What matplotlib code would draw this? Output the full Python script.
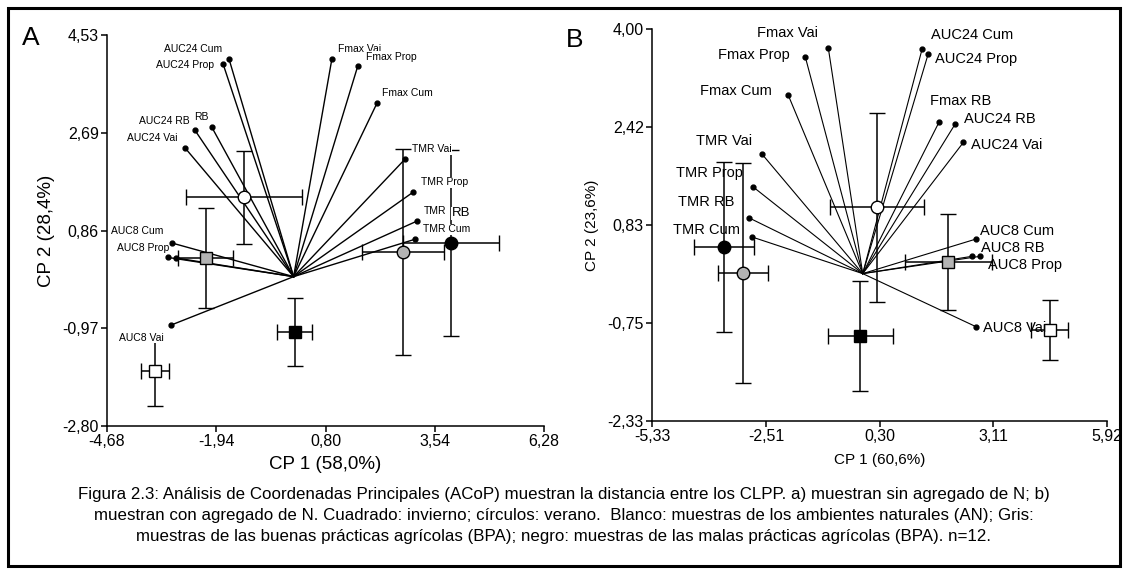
import matplotlib
matplotlib.use('Agg')
import matplotlib.pyplot as plt
from matplotlib.patches import Rectangle

plt.rcParams['font.family'] = ['Liberation Sans', 'DejaVu Sans']

# ---- panel A: sin agregado de N ----
a_origin = (0.0, 0.0)
a_vec_x = [-1.62, -1.77, -2.47, -2.05, -2.73, 0.96, 1.61, 2.09,
           2.79, 2.99, 3.09, 3.04, -3.05, -3.15, -2.95, -3.08]
a_vec_y = [4.08, 3.99, 2.74, 2.80, 2.42, 4.08, 3.95, 3.25,
           2.20, 1.58, 1.04, 0.70, 0.63, 0.36, 0.35, -0.91]

a_pt_x = [-1.25, -2.20, 0.03, -3.48, 2.74, 3.94]
a_pt_y = [1.49, 0.35, -1.04, -1.77, 0.46, 0.63]
a_pt_xerr = [1.45, 0.69, 0.44, 0.35, 1.03, 1.20]
a_pt_yerr = [0.87, 0.94, 0.64, 0.66, 1.93, 1.75]

a_labels = ['AUC24 Cum', 'AUC24 Prop', 'AUC24 RB', 'RB', 'AUC24 Vai',
            'AUC8 Cum', 'AUC8 Prop', 'AUC8 Vai', 'Fmax Vai', 'Fmax Prop',
            'Fmax Cum', 'TMR Vai', 'TMR Prop', 'TMR', 'RB', 'TMR Cum']
a_lab_x = [-2.52, -2.73, -3.25, -2.32, -3.55, -3.93, -3.78, -3.83,
           1.66, 2.44, 2.86, 3.47, 3.79, 3.54, 4.19, 3.84]
a_lab_y = [4.27, 3.97, 2.92, 2.99, 2.60, 0.85, 0.53, -1.15,
           4.27, 4.12, 3.44, 2.39, 1.77, 1.23, 1.19, 0.89]

a_xticks = [-4.68, -1.94, 0.80, 3.54, 6.28]
a_yticks = [-2.80, -0.97, 0.86, 2.69, 4.53]

# ---- panel B: con agregado de N ----
b_origin = (-0.12, 0.05)
b_vec_x = [-0.97, -1.54, -1.96, -2.61, -2.83, -2.93, -2.85, 1.35,
           1.50, 1.77, 2.17, 2.37, 2.69, 2.79, 2.59, 2.69]
b_vec_y = [3.69, 3.55, 2.93, 1.98, 1.45, 0.95, 0.64, 3.68,
           3.60, 2.50, 2.47, 2.17, 0.61, 0.33, 0.33, -0.81]

b_pt_x = [-0.18, 2.00, 4.50, -3.55, -3.08, 0.24]
b_pt_y = [-0.96, 0.24, -0.86, 0.48, 0.06, 1.12]
b_pt_xerr = [0.80, 1.07, 0.46, 0.73, 0.62, 1.16]
b_pt_yerr = [0.89, 0.77, 0.49, 1.37, 1.78, 1.53]

b_labels = ['Fmax Vai', 'Fmax Prop', 'Fmax Cum', 'TMR Vai', 'TMR Prop',
            'TMR RB', 'TMR Cum', 'AUC24 Cum', 'AUC24 Prop', 'Fmax RB',
            'AUC24 RB', 'AUC24 Vai', 'AUC8 Cum', 'AUC8 RB', 'AUC8 Prop',
            'AUC8 Vai']
b_lab_x = [-1.99, -2.81, -3.25, -3.55, -3.92, -3.99, -3.99, 2.59,
           2.69, 2.29, 3.26, 3.43, 3.70, 3.58, 3.90, 3.63]
b_lab_y = [3.94, 3.58, 3.00, 2.19, 1.67, 1.21, 0.75, 3.90,
           3.52, 2.84, 2.55, 2.13, 0.74, 0.46, 0.19, -0.83]

b_xticks = [-5.33, -2.51, 0.30, 3.11, 5.92]
b_yticks = [-2.33, -0.75, 0.83, 2.42, 4.00]

caption = [
    'Figura 2.3: Análisis de Coordenadas Principales (ACoP) muestran la distancia entre los CLPP. a) muestran sin agregado de N; b)',
    'muestran con agregado de N. Cuadrado: invierno; círculos: verano.  Blanco: muestras de los ambientes naturales (AN); Gris:',
    'muestras de las buenas prácticas agrícolas (BPA); negro: muestras de las malas prácticas agrícolas (BPA). n=12.',
]

# square/circle, colour per point (same order as the point lists)
a_styles = [('o', 'white'), ('s', '#b3b3b3'), ('s', 'black'),
            ('s', 'white'), ('o', '#b3b3b3'), ('o', 'black')]
b_styles = [('s', 'black'), ('s', '#b3b3b3'), ('s', 'white'),
            ('o', 'black'), ('o', '#b3b3b3'), ('o', 'white')]


def fmt(v):
    return f'{v:.2f}'.replace('.', ',')


def draw_panel(ax, origin, vx, vy, px, py, pxe, pye, styles,
               labels, lx, ly, xt, yt, lab_size, vec_lw, boxed, size_override=None):
    size_override = size_override or {}
    for x, y in zip(vx, vy):
        ax.plot([origin[0], x], [origin[1], y], color='black', lw=vec_lw, zorder=2)
        ax.plot(x, y, 'o', color='black', ms=3.5, zorder=2)
    for x, y, xe, ye, (m, c) in zip(px, py, pxe, pye, styles):
        ax.errorbar(x, y, xerr=xe, yerr=ye, fmt=m, mfc=c, mec='black', ms=9,
                    mew=1.0, ecolor='black', elinewidth=1.1, capsize=5.5,
                    capthick=1.1, zorder=3)
    for i, (t, x, y) in enumerate(zip(labels, lx, ly)):
        kw = {}
        if boxed:
            kw['bbox'] = dict(facecolor='white', edgecolor='none', pad=0.3)
        ax.text(x, y, t, fontsize=size_override.get(i, lab_size), ha='center',
                va='center', zorder=4, **kw)
    ax.set_xlim(xt[0], xt[-1])
    ax.set_ylim(yt[0], yt[-1])
    ax.set_xticks(xt)
    ax.set_xticklabels([fmt(v) for v in xt])
    ax.set_yticks(yt)
    ax.set_yticklabels([fmt(v) for v in yt])
    for s in ['top', 'right']:
        ax.spines[s].set_visible(False)
    for s in ['left', 'bottom']:
        ax.spines[s].set_linewidth(1.1)
    ax.tick_params(direction='out', length=4, width=1.1, labelsize=11.5, pad=2)
    ax.set_facecolor('none')


W, H = 1128, 575
fig = plt.figure(figsize=(W / 100, H / 100), dpi=100)

axA = fig.add_axes([107 / W, 1 - 426 / H, (544 - 107) / W, (426 - 35) / H])
draw_panel(axA, a_origin, a_vec_x, a_vec_y, a_pt_x, a_pt_y, a_pt_xerr, a_pt_yerr,
           a_styles, a_labels, a_lab_x, a_lab_y, a_xticks, a_yticks, 7.5, 1.0, True,
           size_override={14: 9.5})
axA.set_xlabel('CP 1 (58,0%)', fontsize=13.5, labelpad=5)
axA.set_ylabel('CP 2 (28,4%)', fontsize=13.5, labelpad=5)

axB = fig.add_axes([652 / W, 1 - 421 / H, (1107 - 652) / W, (421 - 29) / H])
draw_panel(axB, b_origin, b_vec_x, b_vec_y, b_pt_x, b_pt_y, b_pt_xerr, b_pt_yerr,
           b_styles, b_labels, b_lab_x, b_lab_y, b_xticks, b_yticks, 10.5, 0.8, False)
axB.set_xlabel('CP 1 (60,6%)', fontsize=11, labelpad=6)
axB.set_ylabel('CP 2 (23,6%)', fontsize=11, labelpad=6)

fig.text(31 / W, 1 - 38 / H, 'A', fontsize=19, ha='center', va='center')
fig.text(575 / W, 1 - 40 / H, 'B', fontsize=19, ha='center', va='center')

for i, line in enumerate(caption):
    fig.text(564 / W, 1 - (494 + 21.5 * i) / H, line, fontsize=12.2,
             ha='center', va='center')

fig.patches.append(Rectangle((8 / W, 1 - 566 / H), (1120 - 8) / W, (566 - 8) / H,
                             transform=fig.transFigure, fill=False,
                             edgecolor='black', lw=2.2))

fig.savefig('out.png', dpi=100)
